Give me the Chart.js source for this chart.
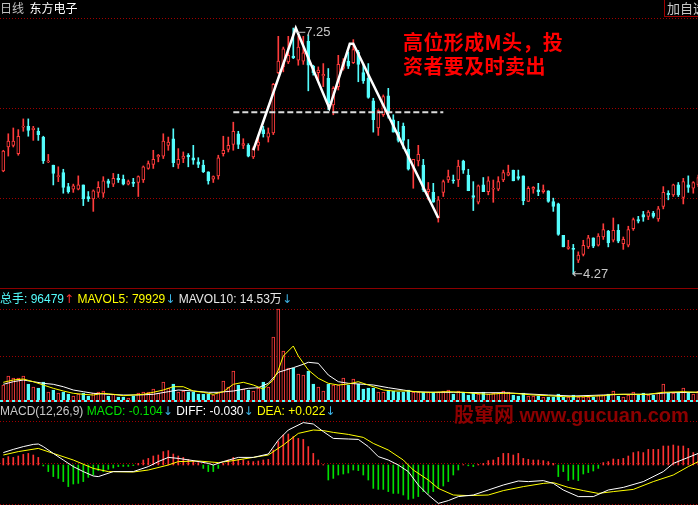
<!DOCTYPE html>
<html>
<head>
<meta charset="utf-8">
<script src="https://cdn.jsdelivr.net/npm/chart.js@4.4.1/dist/chart.umd.min.js"></script>
<style>
  html, body { margin: 0; padding: 0; background: #000; }
  #wrap { position: relative; width: 698px; height: 505px; overflow: hidden; background: #000;
          font-family: "Liberation Sans", "Noto Sans CJK SC", sans-serif; }
  canvas { position: absolute; left: 0; }
  .txt { position: absolute; white-space: nowrap; line-height: 16px; }
  .ar { font-family: "DejaVu Sans"; }
</style>
</head>
<body>
<div id="wrap">
  <canvas id="priceCanvas" width="698" height="288" style="top:0"></canvas>
  <canvas id="volCanvas" width="698" height="113" style="top:288px"></canvas>
  <canvas id="macdCanvas" width="698" height="104" style="top:401px"></canvas>

  <!-- 面板分隔線 -->
  <div style="position:absolute;left:0;top:288px;width:698px;height:1px;background:#8c0000"></div>
  <div style="position:absolute;left:0;top:400px;width:698px;height:2px;background:repeating-linear-gradient(90deg,#54fcfc 0 3px,#c00000 3px 6px)"></div>
  <div style="position:absolute;left:664px;top:0;width:40px;height:16px;border-left:1px solid #a00000;border-bottom:1px solid #a00000;overflow:hidden">
    <span class="txt" style="left:2px;top:0;font-size:13px;color:#c8c8c8;font-family:'Noto Sans CJK SC'">加自选</span>
  </div>

  <!-- 標題 -->
  <div class="txt" style="left:0;top:0;font-size:12px;font-family:'Noto Sans CJK SC'">
    <span style="color:#c0c0c0">日线</span>&nbsp;&nbsp;<span style="color:#fff">东方电子</span>
  </div>
  <div class="txt" style="left:0;top:291px;font-size:12px">
    <span style="color:#54fcfc">总手: 96479</span><span class="ar" style="color:#ff3030">↑</span>
    <span style="color:#ffff00">MAVOL5: 79929</span><span class="ar" style="color:#3cb4e6">↓</span>
    <span style="color:#e8e8e8">MAVOL10: 14.53万</span><span class="ar" style="color:#3cb4e6">↓</span>
  </div>
  <div class="txt" style="left:0;top:403px;font-size:12px">
    <span style="color:#c8c8c8">MACD(12,26,9)</span>
    <span style="color:#00e600">MACD: -0.104</span><span class="ar" style="color:#3cb4e6">↓</span>
    <span style="color:#fff">DIFF: -0.030</span><span class="ar" style="color:#3cb4e6">↓</span>
    <span style="color:#ffff00">DEA: +0.022</span><span class="ar" style="color:#3cb4e6">↓</span>
  </div>

  <!-- 標註 -->
  <div class="txt" style="left:296px;top:24px;font-size:13px;color:#c8c8c8">─7.25</div>
  <div class="txt" style="left:572px;top:266px;font-size:13px;color:#c8c8c8"><span class="ar">←</span>4.27</div>
  <div class="txt" style="left:403px;top:30px;line-height:24px;font-size:20px;font-weight:bold;color:#ff0000;font-family:'Noto Sans CJK SC';letter-spacing:0.4px">高位形成M头，投</div>
  <div class="txt" style="left:403px;top:54px;line-height:24px;font-size:20px;font-weight:bold;color:#ff0000;font-family:'Noto Sans CJK SC';letter-spacing:0.4px">资者要及时卖出</div>
  <div class="txt" style="left:454px;top:403px;line-height:24px;font-size:20px;font-weight:bold;color:#8c0000;font-family:'Liberation Sans','Noto Sans CJK SC'">股窜网 www.gucuan.com</div>
</div>

<script>
// K線資料 (日線)
const opens = [5.52,5.81,5.83,5.73,6.05,6.06,6.02,6.00,5.93,5.63,5.59,5.45,5.50,5.33,5.30,5.30,5.35,5.21,5.18,5.26,
  5.25,5.40,5.36,5.43,5.42,5.36,5.38,5.38,5.41,5.55,5.60,5.69,5.70,5.83,5.91,5.60,5.67,5.71,5.68,5.63,
  5.59,5.51,5.42,5.46,5.73,5.78,5.84,5.97,5.83,5.83,5.69,5.83,6.02,5.93,5.98,6.71,6.78,6.84,6.91,6.86,
  6.85,7.09,6.79,6.71,6.67,6.64,6.32,6.54,6.76,6.85,6.83,6.96,6.71,6.64,6.37,6.04,6.20,6.43,6.14,5.99,
  6.06,5.78,5.55,5.64,5.59,5.27,5.26,4.95,5.26,5.41,5.41,5.41,5.64,5.47,5.22,5.14,5.35,5.27,5.30,5.30,
  5.41,5.47,5.53,5.45,5.46,5.15,5.30,5.29,5.27,5.28,5.15,5.12,4.74,4.58,4.58,4.44,4.51,4.60,4.71,4.62,
  4.72,4.79,4.68,4.80,4.64,4.62,4.82,4.93,4.99,4.97,5.01,4.94,5.09,5.25,5.23,5.35,5.20,5.35,5.31,5.35];
const highs = [5.77,5.97,6.04,6.02,6.15,6.15,6.06,6.04,5.94,5.72,5.59,5.57,5.54,5.37,5.36,5.46,5.35,5.27,5.29,5.39,
  5.45,5.42,5.49,5.48,5.47,5.41,5.43,5.46,5.58,5.64,5.77,5.72,5.97,5.93,6.03,5.79,5.75,5.73,5.83,5.68,
  5.65,5.51,5.46,5.71,5.94,5.93,6.11,6.00,5.91,5.85,5.81,5.93,6.06,6.04,6.58,7.15,7.02,7.15,7.25,7.15,
  7.15,7.17,6.80,6.78,6.82,6.76,6.54,6.92,6.88,6.96,7.11,6.98,6.82,6.82,6.40,6.26,6.44,6.52,6.20,6.12,
  6.10,5.90,5.66,5.83,5.66,5.38,5.37,5.21,5.41,5.53,5.47,5.65,5.65,5.54,5.39,5.35,5.44,5.45,5.41,5.45,
  5.53,5.59,5.53,5.53,5.46,5.33,5.33,5.37,5.35,5.28,5.19,5.13,4.74,4.68,4.63,4.54,4.68,4.74,4.71,4.76,
  4.88,4.80,4.95,4.87,4.72,4.85,4.95,4.97,5.03,5.04,5.03,5.09,5.33,5.28,5.36,5.38,5.43,5.46,5.39,5.47];
const lows = [5.51,5.70,5.81,5.71,6.00,5.94,5.89,5.89,5.61,5.62,5.35,5.39,5.25,5.25,5.26,5.29,5.10,5.15,5.03,5.20,
  5.20,5.32,5.33,5.38,5.35,5.35,5.33,5.21,5.38,5.54,5.55,5.63,5.67,5.77,5.57,5.55,5.62,5.57,5.60,5.56,
  5.50,5.36,5.38,5.42,5.70,5.75,5.77,5.79,5.79,5.69,5.67,5.77,5.93,5.87,5.96,6.70,6.72,6.82,6.88,6.80,
  6.81,6.49,6.68,6.62,6.54,6.26,6.20,6.50,6.74,6.76,6.82,6.60,6.58,6.40,5.99,5.95,6.18,6.16,5.99,5.87,
  5.79,5.53,5.31,5.58,5.27,5.17,5.14,4.90,5.21,5.38,5.37,5.33,5.49,5.28,5.04,5.12,5.27,5.23,5.14,5.28,
  5.39,5.46,5.40,5.41,5.11,5.15,5.25,5.22,5.25,5.14,5.03,4.74,4.60,4.57,4.27,4.41,4.49,4.58,4.59,4.61,
  4.69,4.60,4.66,4.65,4.57,4.60,4.80,4.89,4.91,4.93,4.95,4.91,5.06,5.17,5.21,5.21,5.12,5.26,5.25,5.33];
const closes = [5.76,5.88,5.88,5.94,6.06,6.01,6.04,5.96,5.64,5.64,5.49,5.46,5.32,5.27,5.34,5.35,5.18,5.18,5.28,5.32,
  5.40,5.37,5.43,5.41,5.36,5.39,5.37,5.45,5.57,5.61,5.66,5.71,5.88,5.87,5.62,5.66,5.70,5.69,5.65,5.60,
  5.51,5.40,5.45,5.68,5.77,5.83,6.00,5.84,5.85,5.70,5.79,5.87,5.97,5.98,6.57,6.85,7.00,6.92,6.89,7.02,
  6.95,6.80,6.71,6.74,6.69,6.34,6.52,6.81,6.84,6.79,6.99,6.81,6.61,6.41,6.14,6.25,6.42,6.22,5.99,5.89,
  5.89,5.54,5.66,5.72,5.29,5.30,5.14,5.17,5.39,5.45,5.40,5.58,5.53,5.28,5.20,5.34,5.27,5.40,5.31,5.39,
  5.50,5.50,5.40,5.43,5.16,5.31,5.32,5.27,5.29,5.15,5.09,4.75,4.60,4.60,4.57,4.50,4.62,4.71,4.61,4.73,
  4.81,4.65,4.80,4.67,4.69,4.81,4.93,4.91,4.96,5.02,4.97,5.06,5.26,5.23,5.35,5.23,5.39,5.32,5.38,5.44];

// 成交量 (萬手)
const volumes = [16,25,23,23,25,17,14,13,19,9,11,8,9,7,5,7,8,5,8,9,
  10,5,7,4,4,3,5,8,9,9,12,8,19,13,17,9,10,9,9,7,
  7,7,6,9,20,14,30,16,12,11,10,13,19,14,64,92,50,33,33,27,
  26,30,17,14,10,17,16,16,23,16,22,17,12,13,13,9,9,11,10,9,
  9,11,9,9,9,9,9,9,10,11,7,10,9,6,8,7,9,7,8,8,
  10,9,6,5,8,5,5,5,4,4,4,7,4,4,6,4,4,4,4,6,
  6,7,10,5,4,6,9,6,8,6,6,8,17,8,8,8,13,8,7,9.65];
// 均量線 [K線序號, 萬手]
const mavol5 = [[0,18.7],[2,21],[4,22],[6,19.3],[8,16],[10,12.7],[12,10],[14,7.7],[16,6.7],[18,6],[20,7.7],[22,6.7],
  [24,5.3],[26,6],[28,6.7],[30,8.7],[32,11],[34,14.3],[36,14.3],[38,10],[40,8.7],[42,6.7],[44,9.3],[46,16.7],
  [48,18.7],[50,16],[52,12],[54,21],[55,31],[56,45],[58,55],[59,45],[60,38],[61,31],[63,22.7],[65,17.7],[67,16],
  [69,17],[71,19.3],[73,16],[76,11],[78,10],[81,10],[84,8.7],[86,8.7],[89,9.3],[92,8.7],[94,7.7],[97,6.7],
  [100,7.7],[102,7.7],[106,6],[109,5.3],[112,4.3],[116,4.3],[120,5.3],[122,6.7],[126,6.7],[129,6.7],[132,8.7],
  [136,9.3],[139,8.7]];
const mavol10 = [[0,16.7],[2,19.3],[4,21],[6,19.3],[8,17.7],[10,16.7],[12,14.3],[14,11],[16,9.3],[18,7.7],[21,6.7],
  [24,6],[27,6],[30,6.7],[33,9.3],[35,11],[38,10],[41,8.7],[43,8.7],[46,10],[49,12.7],[51,13.3],[53,17.7],
  [55,28.7],[58,33.3],[60,36.7],[61,38.7],[63,37.7],[65,26],[67,19.3],[69,17.7],[72,16.7],[74,16],[77,13.3],
  [80,11],[82,9.3],[86,8.7],[90,8.7],[96,8.3],[100,8.3],[104,7.3],[109,6],[114,5],[120,6],[124,6.7],[129,6.7],
  [133,8.3],[139,8.7]];

// MACD 柱
const macdBars = [0.033,0.042,0.038,0.045,0.053,0.058,0.050,0.038,-0.005,-0.033,-0.058,-0.067,-0.083,-0.108,-0.095,-0.092,-0.083,-0.062,-0.050,-0.028,
  -0.033,-0.022,-0.015,-0.008,-0.007,-0.007,-0.003,0.008,0.025,0.033,0.045,0.050,0.067,0.072,0.055,0.045,0.038,0.028,0.022,0.012,
  -0.017,-0.033,-0.033,-0.017,0.008,0.025,0.038,0.028,0.025,0.020,0.017,0.020,0.025,0.028,0.075,0.117,0.150,0.155,0.142,0.133,
  0.128,0.092,0.058,0.025,0.002,-0.075,-0.067,-0.050,-0.045,-0.040,-0.025,-0.028,-0.050,-0.075,-0.117,-0.122,-0.122,-0.133,-0.142,-0.142,
  -0.150,-0.172,-0.167,-0.158,-0.133,-0.142,-0.133,-0.117,-0.105,-0.083,-0.050,-0.025,0.002,-0.004,-0.008,0.003,0.008,0.022,0.025,0.038,
  0.058,0.058,0.050,0.058,0.033,0.028,0.025,0.025,0.022,0.017,0.008,-0.058,-0.033,-0.078,-0.072,-0.078,-0.045,-0.038,-0.030,-0.017,
  0.012,0.017,0.030,0.028,0.033,0.045,0.062,0.067,0.062,0.078,0.078,0.078,0.095,0.095,0.100,0.095,0.095,0.083,0.062,0.058];
const diffLine = [[0,0.062],[2,0.078],[4,0.092],[6,0.103],[7,0.105],[8,0.092],[10,0.058],[12,0.025],[14,-0.008],[16,-0.033],
  [18,-0.055],[19,-0.058],[22,-0.033],[26,-0.033],[29,-0.008],[31,0.017],[33,0.038],[35,0.033],[38,0.022],[41,0.008],
  [42,0],[44,0.017],[47,0.038],[50,0.038],[53,0.055],[55,0.125],[57,0.175],[60,0.212],[62,0.205],[64,0.167],[66,0.133],
  [69,0.13],[71,0.128],[73,0.092],[75,0.042],[77,0.025],[79,0],[81,-0.033],[83,-0.1],[85,-0.15],[87,-0.192],[89,-0.178],
  [91,-0.158],[94,-0.15],[97,-0.125],[100,-0.1],[103,-0.08],[105,-0.083],[108,-0.078],[110,-0.092],[112,-0.125],
  [115,-0.158],[118,-0.158],[121,-0.125],[124,-0.112],[128,-0.083],[132,-0.033],[134,0.008],[137,0.038],[139,0.058]];
const deaLine = [[0,0.05],[3,0.067],[7,0.083],[10,0.058],[14,0.025],[18,-0.017],[21,-0.033],[26,-0.035],[29,-0.025],
  [33,0],[35,0.017],[39,0.02],[43,0.012],[46,0.022],[50,0.038],[53,0.05],[56,0.1],[59,0.158],[62,0.175],[64,0.172],
  [66,0.163],[69,0.153],[72,0.138],[74,0.108],[77,0.075],[80,0.025],[82,-0.025],[85,-0.075],[87,-0.117],[90,-0.15],
  [93,-0.153],[97,-0.15],[100,-0.128],[104,-0.108],[108,-0.092],[110,-0.088],[113,-0.112],[116,-0.128],[119,-0.142],
  [122,-0.133],[126,-0.122],[130,-0.083],[134,-0.05],[137,-0.008],[139,0.017]];

// M頭 形態線與頸線 [K線序號, 價格]
const mShape = [[50,5.77],[58.5,7.25],[65.2,6.28],[69.3,7.06],[70,7.06],[87,4.95]];
const neckline = [[46,6.23],[88,6.23]];

// 水平虛線格線
const priceGrid = [7.372, 6.282, 5.192];
const volGrid = [45, 91];
const macdGrid = [0.215, 0.01, -0.195];

const RED = '#ff3c3c';
const CYAN = '#54fcfc';
const GRID = '#a00000';
const up = closes.map((c, i) => c >= opens[i]);
const pts = arr => arr.map(p => ({ x: p[0], y: p[1] }));

function xScale() {
  return { type: 'linear', min: -0.66, max: 138.94, display: false, offset: false };
}
function yScale(min, max, gridVals) {
  return {
    type: 'linear', min: min, max: max, display: true,
    afterBuildTicks: axis => { axis.ticks = gridVals.map(v => ({ value: v })); },
    ticks: { display: false },
    grid: { color: GRID, lineWidth: 1, drawTicks: false, tickLength: 0 },
    border: { display: false, dash: [1, 2] }
  };
}
const baseOpts = {
  responsive: false, animation: false, events: [],
  layout: { padding: 0 },
  plugins: { legend: { display: false }, tooltip: { enabled: false } }
};

// 主圖 K線
new Chart(document.getElementById('priceCanvas'), {
  type: 'bar',
  data: {
    datasets: [
      {
        type: 'line', data: pts(mShape), borderColor: '#ffffff', borderWidth: 2.5,
        pointRadius: 0, tension: 0, order: -2
      },
      {
        type: 'line', data: pts(neckline), borderColor: '#dcdcdc', borderWidth: 2,
        borderDash: [6, 3], pointRadius: 0, order: -1
      },
      {
        // 實體
        data: opens.map((o, i) => ({ x: i, y: [o, closes[i]] })),
        backgroundColor: ctx => up[ctx.dataIndex] ? '#000' : CYAN,
        borderColor: ctx => up[ctx.dataIndex] ? RED : CYAN,
        borderWidth: 1, borderSkipped: false, barThickness: 3, minBarLength: 1,
        grouped: false, order: 0
      },
      {
        // 影線
        data: lows.map((l, i) => ({ x: i, y: [l, highs[i]] })),
        backgroundColor: ctx => up[ctx.dataIndex] ? RED : CYAN,
        borderWidth: 0, barThickness: 1, grouped: false, order: 1
      }
    ]
  },
  options: Object.assign({}, baseOpts, {
    scales: { x: xScale(), y: yScale(4.102, 7.59, priceGrid) }
  })
});

// 成交量
new Chart(document.getElementById('volCanvas'), {
  type: 'bar',
  data: {
    datasets: [
      { type: 'line', data: pts(mavol5), borderColor: '#ffff00', borderWidth: 1, pointRadius: 0, order: -2 },
      { type: 'line', data: pts(mavol10), borderColor: '#ffffff', borderWidth: 1, pointRadius: 0, order: -1 },
      {
        data: volumes.map((v, i) => ({ x: i, y: v })),
        backgroundColor: ctx => up[ctx.dataIndex] ? '#000' : CYAN,
        borderColor: ctx => up[ctx.dataIndex] ? RED : CYAN,
        borderWidth: 1, borderSkipped: false, barThickness: 3, grouped: false, order: 0
      }
    ]
  },
  options: Object.assign({}, baseOpts, {
    scales: { x: xScale(), y: yScale(0, 113, volGrid) }
  })
});

// MACD
new Chart(document.getElementById('macdCanvas'), {
  type: 'bar',
  data: {
    datasets: [
      { type: 'line', data: pts(diffLine), borderColor: '#ffffff', borderWidth: 1, pointRadius: 0, order: -2 },
      { type: 'line', data: pts(deaLine), borderColor: '#ffff00', borderWidth: 1, pointRadius: 0, order: -1 },
      {
        data: macdBars.map((v, i) => ({ x: i, y: v })),
        backgroundColor: ctx => macdBars[ctx.dataIndex] >= 0 ? '#ff3232' : '#00e000',
        borderWidth: 0, barThickness: 1, grouped: false, order: 0
      }
    ]
  },
  options: Object.assign({}, baseOpts, {
    scales: { x: xScale(), y: yScale(-0.2, 0.32, macdGrid) }
  })
});
</script>
</body>
</html>
